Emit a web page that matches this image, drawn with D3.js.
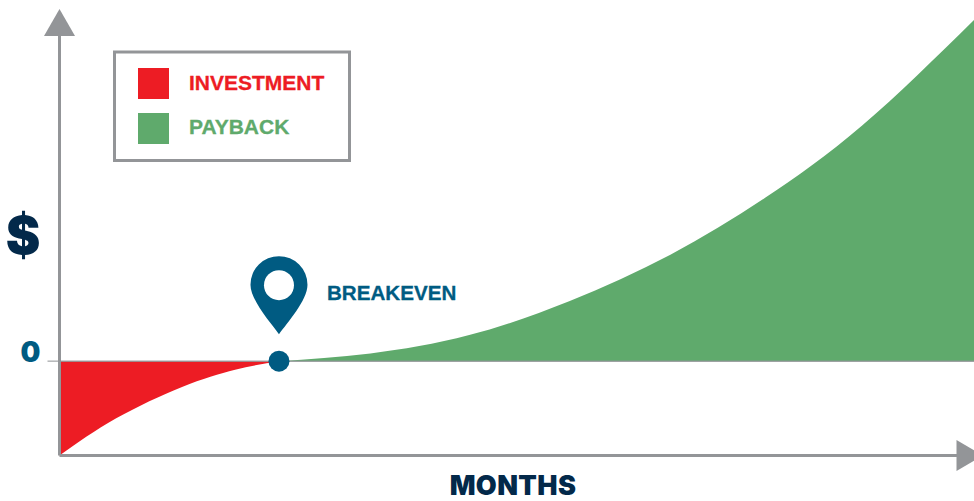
<!DOCTYPE html>
<html>
<head>
<meta charset="utf-8">
<style>
  html, body { margin: 0; padding: 0; background: #fff; overflow: hidden; }
  svg { display: block; }
  text { font-family: "Liberation Sans", Arial, sans-serif; font-weight: 700; }
  .heavy { font-family: Inter, "Liberation Sans", sans-serif; font-weight: 900; }
</style>
<script src="https://cdn.jsdelivr.net/npm/d3@7"></script>
</head>
<body>
<div id="chart"></div>
<script>
// Values. Dollars in arbitrary units, the original has no scale.
const investmentMonths = [0, 3.1, 6.7, 9.6, 12];
const investmentValues = [-94, -57, -25.7, -8.5, 0];
const paybackMonths = [12, 17, 22.4, 27.9, 33.4, 38.6, 43.9, 50];
const paybackValues = [0, 7.7, 26, 60, 106, 163, 235, 340];
const breakevenMonth = 12;
const legendLabels = ["INVESTMENT", "PAYBACK"];
const yTicks = [0];

const RED = "#ed1c24", GREEN = "#5faa6c", GREY = "#939598", TEAL = "#005b82", NAVY = "#03294a";
const width = 974, height = 501;

const x = d3.scaleLinear().domain([0, 50]).range([59.5, 974]);
const y = d3.scaleLinear().domain([-94, 340]).range([455.5, 20]);

const svg = d3.select("#chart").append("svg")
    .attr("width", width).attr("height", height)
    .attr("viewBox", `0 0 ${width} ${height}`);

// Areas
const area = d3.area()
    .x(d => x(d[0]))
    .y0(y(0))
    .y1(d => y(d[1]))
    .curve(d3.curveNatural);

svg.append("path").attr("fill", RED)
    .attr("d", area(d3.zip(investmentMonths, investmentValues)));
svg.append("path").attr("fill", GREEN)
    .attr("d", area(d3.zip(paybackMonths, paybackValues)));

// Zero line
svg.append("line")
    .attr("x1", x(0)).attr("x2", x.range()[1])
    .attr("y1", y(0)).attr("y2", y(0))
    .attr("stroke", GREY).attr("stroke-opacity", 0.85).attr("stroke-width", 1.6);

// Axes
const gY = svg.append("g").attr("transform", `translate(${x(0)},0)`)
    .call(d3.axisLeft(y).tickValues(yTicks).tickSizeInner(12).tickSizeOuter(0).tickPadding(7).offset(0));
const gX = svg.append("g").attr("transform", `translate(0,${y.range()[0]})`)
    .call(d3.axisBottom(x).tickValues([]).tickSizeOuter(0).offset(0));
svg.selectAll(".domain").attr("stroke", GREY).attr("stroke-width", 3);
gY.selectAll(".tick line").attr("stroke", GREY).attr("stroke-opacity", 0.7).attr("stroke-width", 1.5);
gY.selectAll(".tick text")
    .attr("class", "heavy")
    .attr("fill", TEAL).attr("font-size", 28).attr("dy", "0.02em")
    .style("font-family", "Inter, sans-serif").style("font-weight", 900);

// Arrow heads
svg.append("path").attr("fill", GREY)
    .attr("d", `M${x(0)},9 L${x(0) + 15.5},36 L${x(0) - 15.5},36 Z`);
svg.append("path").attr("fill", GREY)
    .attr("d", `M956.5,${y.range()[0] - 15.5} L983,${y.range()[0]} L956.5,${y.range()[0] + 15.5} Z`);

// Axis titles
svg.append("text").attr("class", "heavy").attr("x", 23).attr("y", 254).attr("text-anchor", "middle")
    .attr("font-size", 52).attr("fill", NAVY).text("$");
svg.append("text").attr("class", "heavy").attr("x", 513).attr("y", 495).attr("text-anchor", "middle")
    .attr("font-size", 27).attr("letter-spacing", 0.4).attr("fill", NAVY).text("MONTHS");

// Legend
const legend = svg.append("g");
legend.append("rect")
    .attr("x", 114.5).attr("y", 52).attr("width", 235).attr("height", 108.5)
    .attr("fill", "#fff").attr("stroke", GREY).attr("stroke-width", 3);
const rows = legend.selectAll("g.row").data(legendLabels).join("g").attr("class", "row")
    .attr("transform", (d, i) => `translate(138,${68 + i * 45})`);
rows.append("rect").attr("width", 31).attr("height", 31)
    .attr("fill", (d, i) => i ? GREEN : RED);
rows.append("text").attr("x", 51).attr("y", (d, i) => i ? 21 : 22)
    .attr("font-size", 21).attr("fill", (d, i) => i ? GREEN : RED)
    .attr("stroke", (d, i) => i ? GREEN : RED).attr("stroke-width", 0.3).text(d => d);

// Breakeven marker
const bx = x(breakevenMonth), by = y(0);
svg.append("circle").attr("cx", bx).attr("cy", by).attr("r", 10.5).attr("fill", TEAL);
const pin = svg.append("g").attr("transform", `translate(${bx},${by - 27})`);
pin.append("path").attr("fill", TEAL)
    .attr("d", "M0,0 C-8,-11 -28.5,-34 -28.5,-49.5 A28.5,28.5 0 1 1 28.5,-49.5 C28.5,-34 8,-11 0,0 Z");
pin.append("circle").attr("cy", -49).attr("r", 15).attr("fill", "#fff");
svg.append("text").attr("x", 327).attr("y", 300)
    .attr("font-size", 20.6).attr("fill", TEAL).attr("stroke", TEAL).attr("stroke-width", 0.3).text("BREAKEVEN");
</script>
</body>
</html>
